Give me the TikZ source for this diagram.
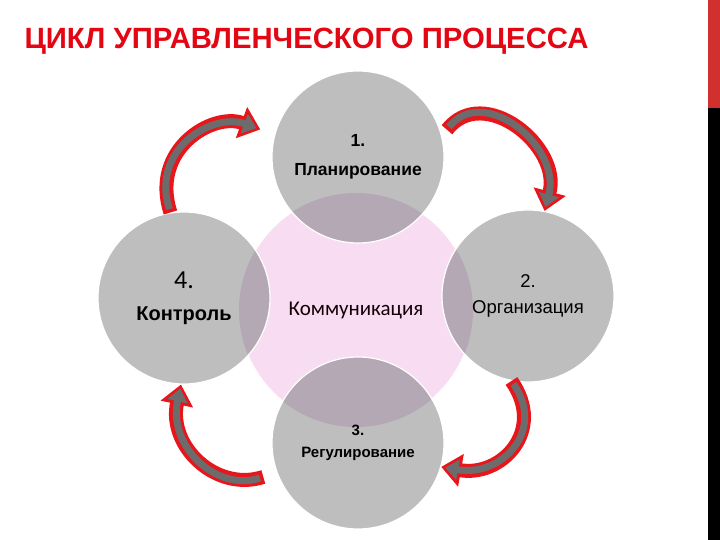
\documentclass[tikz,border=0pt]{standalone}
\usepackage{fontspec}
\setmainfont{Liberation Sans}
\newfontfamily\calibrifont{Carlito}
\usetikzlibrary{positioning}
\usetikzlibrary{arrows.meta}
\definecolor{titlered}{HTML}{E30613}
\definecolor{stagegray}{HTML}{BEBEBE}
\definecolor{overlapmauve}{HTML}{B4A8B4}
\definecolor{commpink}{HTML}{F8DDF2}
\definecolor{rimred}{HTML}{E8151B}
\definecolor{coregray}{HTML}{6C6C6C}
\definecolor{barred}{HTML}{D22F2F}

\begin{document}
\begin{tikzpicture}[x = 1pt, y = 1pt,
        stage/.style = {circle, minimum size = 172pt, inner sep = 0pt, align = center,
            fill = stagegray, draw = white, line width = 1.2pt,
            path picture = {\fill[overlapmauve] (comm.center) circle[radius = 117pt];}},
        rimarrow/.style = {draw = rimred, line width = 14pt,
            -{Triangle[length = 20pt, width = 32pt]}},
        corearrow/.style = {draw = coregray, line width = 7pt,
            -{Triangle[length = 13pt, width = 20pt]}},]
    \useasboundingbox[] (0,0) rectangle (720,540);

    % side bar
    \fill[barred] (708,540) rectangle (720,432);
    \fill[black] (708,432) rectangle (720,0);

    \node (title) [anchor = base west, text = titlered,
        font = \bfseries\fontsize{29.3pt}{32pt}\selectfont] at (21,491)
        {ЦИКЛ УПРАВЛЕНЧЕСКОГО ПРОЦЕССА};

    \begin{scope}[on grid]

        \node (comm) at (356,230) [circle, minimum size = 234pt, fill = commpink,
            draw = white, line width = 1.2pt] {};

        \node (plan) [stage, above = 153pt of comm, xshift = 2pt,
            font = \bfseries\fontsize{17.5pt}{29pt}\selectfont] {1.\\Планирование};
        \node (org) [stage, right = 172pt of comm, yshift = 14pt,
            font = \fontsize{18.5pt}{26pt}\selectfont] {2.\\Организация};
        \node (reg) [stage, below = 133pt of comm, xshift = 2pt,
            font = \bfseries\fontsize{15pt}{22pt}\selectfont] {3.\\Регулирование};
        \node (ctrl) [stage, left = 172pt of comm, yshift = 12pt,
            font = \bfseries\fontsize{20pt}{32pt}\selectfont]
            {{\calibrifont\mdseries\fontsize{26pt}{32pt}\selectfont 4.}\\Контроль};

        \node (commtext) at (comm.center) [text = black!90!purple,
            font = \calibrifont\fontsize{21pt}{24pt}\selectfont] {Коммуникация};

    \end{scope}

    % cycle arrows
    \draw[rimarrow, shorten >= 15pt] (ctrl.99) to[out = 108, in = 160, looseness = 1.3] (plan.165);
    \draw[corearrow, shorten <= 3.5pt, shorten >= 19pt] (ctrl.99) to[out = 108, in = 160, looseness = 1.3] (plan.165);

    \draw[rimarrow, shorten <= 8pt] (plan.14) to[out = 52, in = 75, looseness = 1.35] (org.79);
    \draw[corearrow, shorten <= 11.5pt, shorten >= 4pt] (plan.14) to[out = 52, in = 75, looseness = 1.35] (org.79);

    \draw[rimarrow] (org.259) to[out = -55, in = -10, looseness = 1.4] (reg.344);
    \draw[corearrow, shorten <= 3.5pt, shorten >= 4pt] (org.259) to[out = -55, in = -10, looseness = 1.4] (reg.344);

    \draw[rimarrow, shorten <= 14pt] (reg.200) to[out = 198, in = 258, looseness = 1.25] (ctrl.268);
    \draw[corearrow, shorten <= 17.5pt, shorten >= 4pt] (reg.200) to[out = 198, in = 258, looseness = 1.25] (ctrl.268);

\end{tikzpicture}
\end{document}
